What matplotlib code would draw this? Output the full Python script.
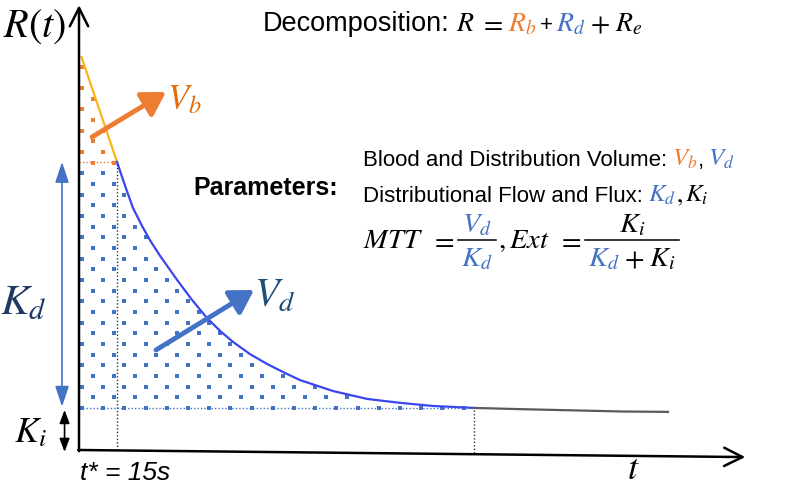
import numpy as np
import matplotlib
matplotlib.use("Agg")
import matplotlib.pyplot as plt

plt.rcParams["mathtext.fontset"] = "stix"
plt.rcParams["font.family"] = ["Liberation Sans", "DejaVu Sans"]

# values: time in s, R(t) in % of the peak
t_star = 15
t_blood = [1, 15]
r_blood = [100, 73.3]
t_dist = [15, 18.2, 21.3, 24.9, 28.0, 32.0, 38.7, 44.6, 50.5, 55.7, 60.8, 67.5,
          74.2, 81.3, 87.2, 100.3, 113.7, 126.7, 139.8, 156]
r_dist = [73.3, 67.2, 61.6, 57.0, 53.4, 49.4, 43.3, 38.2, 33.6, 30.3, 27.5, 24.4,
          21.9, 19.6, 17.8, 15.0, 13.0, 12.0, 11.2, 10.7]
t_tail = [156, 174, 194, 214, 232.5]
r_tail = [10.7, 10.4, 10.1, 9.8, 9.7]
k_i = 10.7
t_end = 156

ORANGE = "#ed7d31"
BLUE = "#4472c4"
NAVY = "#203864"

fig = plt.figure(figsize=(7.95, 4.91), dpi=100)
ax = fig.add_axes([0, 0, 1, 1])
px_t = 38 / 15   # pixels per second
px_r = 3.93      # pixels per R unit
ax.set_xlim(-79 / px_t, (795 - 79) / px_t)
ax.set_ylim(-(491 - 450) / px_r, 450 / px_r)
ax.axis("off")

# overlay in pixel units for the text
ov = fig.add_axes([0, 0, 1, 1])
ov.set_xlim(0, 795)
ov.set_ylim(491, 0)
ov.axis("off")

# dotted areas (blood volume + distribution volume)
t_top = t_blood + t_dist[1:]
r_top = r_blood + r_dist[1:]
row_step = 10.67 / px_r
col_step = 21.2 / px_t
for k in range(34):
    r = k_i + k * row_step
    t0 = 1.2 + (col_step / 2 if k % 2 else 0)
    ts = np.arange(t0, t_end, col_step)
    keep = r <= np.interp(ts, t_top, r_top) + 0.3
    col = ORANGE if r > r_blood[1] - 0.5 else BLUE
    ax.plot(ts[keep], np.full(keep.sum(), r), ls="none", marker="s",
            ms=2.2, mew=0, color=col)

# curves
ax.plot(t_blood, r_blood, color="#fbb41a", lw=1.6)
ax.plot(t_dist, r_dist, color="#3a46f0", lw=1.6)
ax.plot(t_tail, r_tail, color="#5a5a5a", lw=1.6)

# guide lines
dot = (0, (1, 1.5))
ax.plot([0, t_star], [r_blood[1], r_blood[1]], color=ORANGE, lw=1, ls=dot)
ax.plot([t_star, t_star], [0, r_blood[1]], color="#333333", lw=1, ls=dot)
ax.plot([0, t_end], [k_i, k_i], color=BLUE, lw=1, ls=dot)
ax.plot([t_end, t_end], [-0.8, k_i], color="#333333", lw=1, ls=dot)

# axes arrows
ax.annotate("", xy=(0, 113.2), xytext=(0, -0.3),
            arrowprops=dict(arrowstyle="->,head_length=0.6,head_width=0.3",
                            lw=1.8, color="k", mutation_scale=22, shrinkA=0, shrinkB=0))
ax.annotate("", xy=(263, -1.8), xytext=(-0.3, 0),
            arrowprops=dict(arrowstyle="->,head_length=0.6,head_width=0.3",
                            lw=1.8, color="k", mutation_scale=22, shrinkA=0, shrinkB=0))

# K_d and K_i arrows
ax.annotate("", xy=(-6.7, k_i + 0.3), xytext=(-6.7, r_blood[1]),
            arrowprops=dict(arrowstyle="<|-|>,head_length=0.9,head_width=0.3",
                            lw=1.2, color=BLUE, mutation_scale=14, shrinkA=0, shrinkB=0))
ax.annotate("", xy=(-5.7, -0.5), xytext=(-5.7, k_i - 0.5),
            arrowprops=dict(arrowstyle="<|-|>,head_length=0.8,head_width=0.3",
                            lw=1.2, color="k", mutation_scale=10, shrinkA=0, shrinkB=0))

# V_b and V_d pointers
ov.annotate("", xy=(166, 92), xytext=(92, 137),
            arrowprops=dict(arrowstyle="-|>,head_length=1.0,head_width=0.6",
                            lw=3.5, color=ORANGE, mutation_scale=14, shrinkA=0, shrinkB=0))
ov.annotate("", xy=(254, 290), xytext=(156, 350),
            arrowprops=dict(arrowstyle="-|>,head_length=1.0,head_width=0.6",
                            lw=3.5, color=BLUE, mutation_scale=14, shrinkA=0, shrinkB=0))

renderer = fig.canvas.get_renderer()


def line(x, y, pieces, ha="left"):
    # pieces: (text, color, size, weight, gap after)
    arts = []
    cur = 0
    for s, c, size, kind, gap in pieces:
        kw = {"fontweight": "bold"} if kind == "bold" else {}
        if kind == "italic":
            kw["fontstyle"] = "italic"
        a = ov.text(0, y, s, color=c, fontsize=size, va="baseline", ha="left", **kw)
        w = a.get_window_extent(renderer).width
        arts.append((a, cur))
        cur += w + gap
    total = cur - pieces[-1][4]
    x0 = x if ha == "left" else x - total / 2
    for a, off in arts:
        a.set_x(x0 + off)
    return total


def frac(x, ybar, num, den, pad=3):
    wn = line(-1000, ybar - 8, num)
    wd = line(-1000, ybar + 26, den)
    for a in ov.texts[-(len(num) + len(den)):]:
        a.remove()
    w = max(wn, wd) + 2 * pad
    line(x + w / 2, ybar - 8, num, ha="center")
    line(x + w / 2, ybar + 26, den, ha="center")
    ov.plot([x, x + w], [ybar, ybar], color="k", lw=1.1)
    return w


MS = 20.5
line(263, 31, [("Decomposition:", "k", 19.5, "sans", 6),
               ("$R$", "k", 20, "math", 5), ("$=$", "k", 20, "math", 5),
               ("$R_b$", ORANGE, 20, "math", 3), ("+", "k", 16, "sans", 3),
               ("$R_d$", BLUE, 20, "math", 5), ("$+$", "k", 20, "math", 5),
               ("$R_e$", "k", 20, "math", 0)])

ov.text(193, 195, "Parameters:", fontsize=18, fontweight="bold", va="baseline")
line(363, 166, [("Blood and Distribution Volume:", "k", 16, "sans", 5),
                ("$V_b$", ORANGE, 18, "math", 0), (",", "k", 16, "sans", 4),
                ("$V_d$", BLUE, 18, "math", 0)])
line(363, 202, [("Distributional Flow and Flux:", "k", 16, "sans", 5),
                ("$K_d$", BLUE, 18, "math", 0), ("$,$", "k", 18, "math", 2),
                ("$K_i$", "k", 18, "math", 0)])

x = 363
ybar = 240
x += line(x, ybar + 8, [("$MTT$", "k", MS, "math", 0)]) + 7
x += line(x, ybar + 8, [("$=$", "k", MS, "math", 0)]) + 4
x += frac(x, ybar, [("$V_d$", BLUE, MS, "math", 0)], [("$K_d$", BLUE, MS, "math", 0)]) + 2
x += line(x, ybar + 8, [("$,Ext$", "k", MS, "math", 0)]) + 7
x += line(x, ybar + 8, [("$=$", "k", MS, "math", 0)]) + 4
frac(x, ybar, [("$K_i$", "k", MS, "math", 0)],
     [("$K_d$", BLUE, MS, "math", 5), ("$+$", "k", MS, "math", 5), ("$K_i$", "k", MS, "math", 0)])

ov.text(3, 37, "$R(t)$", fontsize=29, va="baseline")
ov.text(0, 314, "$K_d$", fontsize=31, color=NAVY, va="baseline")
ov.text(14, 442, "$K_i$", fontsize=26, va="baseline")
ov.text(167, 109, "$V_b$", fontsize=25, color="#e46c0a", va="baseline")
ov.text(254, 307, "$V_d$", fontsize=29, color="#1f4e79", va="baseline")
ov.text(627, 479, "$t$", fontsize=26, va="baseline")
ov.text(80, 480, "t* = 15s", fontsize=19, fontstyle="italic", va="baseline")

fig.savefig("out.png", dpi=100)
